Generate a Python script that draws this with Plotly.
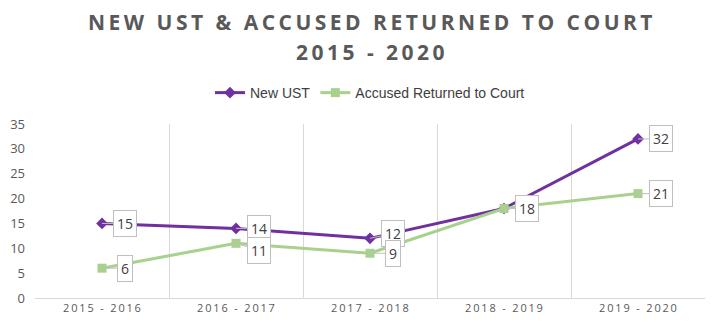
import plotly.graph_objects as go

# Reporting periods and yearly counts
periods = ["2015 - 2016", "2016 - 2017", "2017 - 2018", "2018 - 2019", "2019 - 2020"]
new_ust = [15, 14, 12, 18, 32]
returned_to_court = [6, 11, 9, 18, 21]
y_ticks = [0, 5, 10, 15, 20, 25, 30, 35]
title_lines = ["NEW UST & ACCUSED RETURNED TO COURT", "2015 - 2020"]

PURPLE = "#7030A0"
GREEN = "#A9D18E"
TEXT = "#595959"


def tracked(s):
    """Open up letter spacing with thin spaces between characters."""
    return "\u2009".join(list(s))


x_idx = list(range(len(periods)))

fig = go.Figure()
fig.add_trace(go.Scatter(
    x=x_idx, y=new_ust, name="New UST", mode="lines+markers",
    line=dict(color=PURPLE, width=3),
    marker=dict(symbol="diamond", size=9, color=PURPLE),
))
fig.add_trace(go.Scatter(
    x=x_idx, y=returned_to_court, name="Accused Returned to Court", mode="lines+markers",
    line=dict(color=GREEN, width=3),
    marker=dict(symbol="square", size=9, color=GREEN),
))

# Callout labels beside each point (vertical nudges keep overlapping pairs apart)
purple_dy = [0, 0, -5, 0, 0]
green_dy = [0, 7, 0, 0, 0]
for series, dys in ((new_ust, purple_dy), (returned_to_court, green_dy)):
    for i, (v, dy) in enumerate(zip(series, dys)):
        if series is returned_to_court and v == new_ust[i]:
            continue
        fig.add_annotation(
            x=i, y=v, text=str(v), showarrow=True, arrowhead=0,
            arrowcolor="#BFBFBF", arrowwidth=1, ax=23, ay=dy,
            bgcolor="white", bordercolor="#BFBFBF", borderwidth=1, borderpad=3,
            font=dict(family="Open Sans", size=14, color="#404040"),
        )

# Two-line chart heading
for line_text, y_px in zip(title_lines, [22, 52]):
    fig.add_annotation(
        xref="paper", yref="paper", x=0.5, y=(328 - 30 - y_px) / 174,
        xanchor="center", yanchor="middle", showarrow=False,
        text=f"<b>{tracked(line_text)}</b>",
        font=dict(family="Open Sans", size=21, color=TEXT),
    )

fig.update_layout(
    width=717, height=328,
    margin=dict(l=35, r=12, t=124, b=30),
    paper_bgcolor="white", plot_bgcolor="white",
    legend=dict(
        orientation="h", x=0.5, xanchor="center", y=1.178, yanchor="middle",
        font=dict(family="Liberation Sans", size=14, color="#404040"),
        itemwidth=30, tracegroupgap=0,
    ),
    xaxis=dict(
        range=[-0.5, len(periods) - 0.5],
        tickvals=x_idx, ticktext=[tracked(p) for p in periods], showgrid=False,
        tickfont=dict(family="Open Sans", size=11, color=TEXT),
        showline=True, linecolor="#D9D9D9", linewidth=1,
        ticks="", zeroline=False,
        minor=dict(tickvals=[i - 0.5 for i in range(len(periods) + 1)],
                   showgrid=True, gridcolor="#D9D9D9", gridwidth=1),
    ),
    yaxis=dict(
        range=[0, 35], tickvals=y_ticks, showgrid=False, zeroline=False,
        tickfont=dict(family="Open Sans", size=13, color=TEXT),
        ticks="", showline=False, ticklabelstandoff=9, automargin=False,
    ),
)

fig.write_html("out.html")
